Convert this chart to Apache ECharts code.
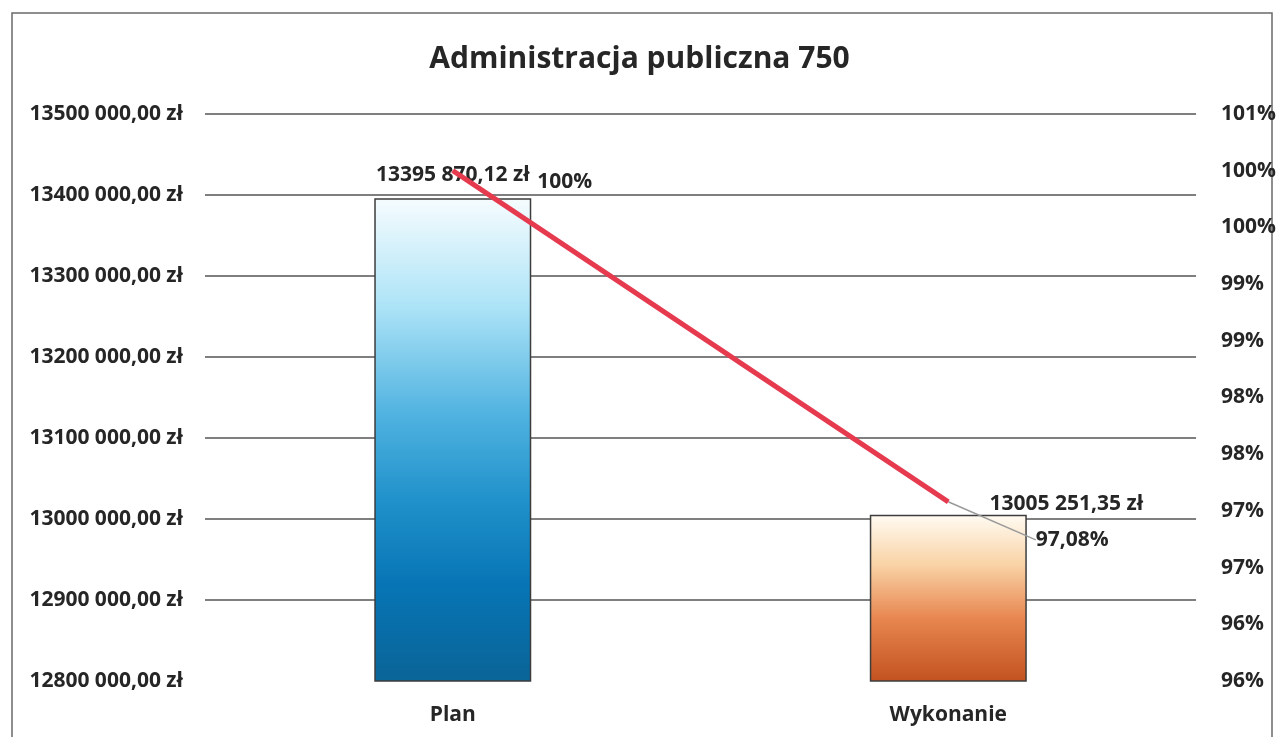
<!DOCTYPE html>
<html>
<head>
<meta charset="utf-8">
<title>Administracja publiczna 750</title>
<script src="https://cdn.jsdelivr.net/npm/echarts@6/dist/echarts.min.js"></script>
<style>
  html, body { margin: 0; padding: 0; background: #fff; }
  #chart { width: 1279px; height: 737px; }
</style>
</head>
<body>
<div id="chart"></div>
<script>
// Dane wykresu
const categories = ['Plan', 'Wykonanie'];
const amounts = [13395870.12, 13005251.35];
const percents = [100, 97.08];

const FONT = '"Open Sans", "Noto Sans", sans-serif';
const TXT = '#262626';

// "13395 870,12 zł" - jak w Excelu, separator tylko przed ostatnią trójką
function fmtZl(v) {
  const fixed = v.toFixed(2).split('.');
  const s = fixed[0];
  const head = s.length > 3 ? s.slice(0, -3) + ' ' + s.slice(-3) : s;
  return head + ',' + fixed[1] + ' zł';
}

function fmtPct(v) {
  return String(v).replace('.', ',') + '%';
}

const planGrad = new echarts.graphic.LinearGradient(0, 0, 0, 1, [
  { offset: 0, color: '#f6fcfe' },
  { offset: 0.22, color: '#aee4f7' },
  { offset: 0.45, color: '#4fb2e0' },
  { offset: 0.62, color: '#2192cb' },
  { offset: 0.8, color: '#0775b5' },
  { offset: 1, color: '#0a6497' }
]);
const wykGrad = new echarts.graphic.LinearGradient(0, 0, 0, 1, [
  { offset: 0, color: '#fffbf2' },
  { offset: 0.3, color: '#f9d3a6' },
  { offset: 0.62, color: '#e88650' },
  { offset: 1, color: '#c2521f' }
]);

const chart = echarts.init(document.getElementById('chart'));

chart.setOption({
  backgroundColor: '#fff',
  animation: false,
  textStyle: { fontFamily: FONT },
  title: {
    text: 'Administracja publiczna 750',
    left: 'center',
    top: 39,
    textStyle: { fontFamily: FONT, fontSize: 30, fontWeight: 'bold', color: TXT }
  },
  graphic: [{
    type: 'rect',
    shape: { x: 12, y: 13, width: 1260, height: 740 },
    style: { fill: 'none', stroke: '#6a6a6a', lineWidth: 1.5 },
    silent: true
  }],
  grid: { left: 205, right: 82, top: 114, bottom: 56 },
  xAxis: {
    type: 'category',
    data: categories,
    axisLine: { show: false },
    axisTick: { show: false },
    axisLabel: { color: TXT, fontSize: 21, fontWeight: 'bold', margin: 24 }
  },
  yAxis: [{
    type: 'value',
    min: 12800000,
    max: 13500000,
    interval: 100000,
    axisLine: { show: false },
    axisTick: { show: false },
    axisLabel: { color: TXT, fontSize: 21, fontWeight: 'bold', margin: 22, formatter: fmtZl },
    splitLine: {
      lineStyle: {
        color: ['transparent', '#555', '#555', '#555', '#555', '#555', '#555', '#555'],
        width: 1.5
      }
    }
  }, {
    type: 'value',
    min: 95.5,
    max: 100.5,
    interval: 0.5,
    axisLine: { show: false },
    axisTick: { show: false },
    splitLine: { show: false },
    axisLabel: {
      color: TXT, fontSize: 21, fontWeight: 'bold', margin: 25,
      formatter: v => Math.round(v) + '%'
    }
  }],
  series: [{
    type: 'bar',
    yAxisIndex: 0,
    barWidth: 157,
    data: [
      {
        value: amounts[0],
        itemStyle: { color: planGrad },
        label: { position: 'top', distance: 13 }
      },
      {
        value: amounts[1],
        itemStyle: { color: wykGrad },
        label: { position: 'top', distance: 0, offset: [118, 0] }
      }
    ],
    itemStyle: { borderColor: '#3d3d3d', borderWidth: 1.5 },
    label: {
      show: true,
      color: TXT,
      fontSize: 21,
      fontWeight: 'bold',
      formatter: p => fmtZl(p.value)
    }
  }, {
    type: 'line',
    yAxisIndex: 1,
    data: [
      { value: percents[0], label: { position: 'right', distance: 84 }, labelLine: { show: false } },
      { value: percents[1], label: { position: 'right', distance: 4 } }
    ],
    symbol: 'circle',
    symbolSize: 1,
    showSymbol: true,
    itemStyle: { color: '#e63a4f' },
    lineStyle: { color: '#e63a4f', width: 5 },
    z: 3,
    label: {
      show: true,
      color: TXT,
      fontSize: 21,
      fontWeight: 'bold',
      formatter: p => fmtPct(p.value)
    },
    labelLine: {
      show: true,
      lineStyle: { color: '#9a9a9a', width: 1.5 }
    },
    labelLayout: p => (p.dataIndex === 1 ? { dx: 83, dy: 38 } : { dy: 11 })
  }]
});

window.addEventListener('resize', () => chart.resize());
</script>
</body>
</html>
